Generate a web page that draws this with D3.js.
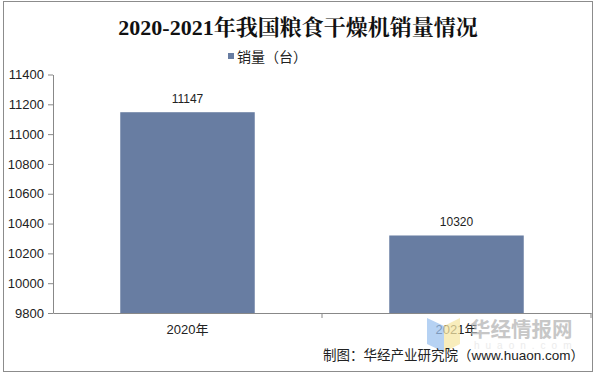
<!DOCTYPE html>
<html><head><meta charset="utf-8">
<script src="https://cdn.jsdelivr.net/npm/d3@7/dist/d3.min.js"></script>
<style>body{margin:0;background:#fff;}svg{display:block;}</style>
</head><body>
<script>
const categories = ["2020年", "2021年"];
const values = [11147, 10320];
const yTicks = [9800, 10000, 10200, 10400, 10600, 10800, 11000, 11200, 11400];
const title = "2020-2021年我国粮食干燥机销量情况";
const legendLabel = "销量（台）";
const source = "制图：华经产业研究院（www.huaon.com）";

const W = 596, H = 376;
const svg = d3.select("body").append("svg").attr("width", W).attr("height", H);
svg.append("rect").attr("x", 3.5).attr("y", 1.5).attr("width", 589).attr("height", 370)
  .attr("fill", "#fff").attr("stroke", "#8c8c8c").attr("stroke-width", 1);

const m = {l: 53, r: 591, t: 74.5, b: 313};
const x = d3.scaleBand().domain(categories).range([m.l, m.r]).paddingInner(0.5).paddingOuter(0.25);
const y = d3.scaleLinear().domain([9800, 11400]).range([m.b, m.t]);
const xb = d3.scaleBand().domain(categories).range([m.l, m.r]);

const font = "'Liberation Sans', Arial, 'Noto Sans CJK SC', sans-serif";

// title
svg.append("text").attr("x", 298).attr("y", 35).attr("text-anchor", "middle")
  .attr("font-family", "'Liberation Serif', 'Noto Serif CJK SC', 'Noto Sans CJK SC', serif")
  .attr("font-weight", "bold").attr("font-size", 22).attr("fill", "#111").text(title);

// legend
svg.append("rect").attr("x", 228).attr("y", 53).attr("width", 6).attr("height", 6).attr("fill", "#687da2");
svg.append("text").attr("x", 237).attr("y", 61.5).attr("font-family", font).attr("font-size", 14)
  .attr("fill", "#222").text(legendLabel);

// bars
svg.selectAll(".bar").data(values).enter().append("rect")
  .attr("x", (d, i) => x(categories[i])).attr("width", x.bandwidth())
  .attr("y", d => y(d)).attr("height", d => y(9800) - y(d)).attr("fill", "#687da2");

svg.selectAll(".lbl").data(values).enter().append("text")
  .attr("x", (d, i) => x(categories[i]) + x.bandwidth() / 2).attr("y", d => y(d) - 9)
  .attr("text-anchor", "middle").attr("font-family", font).attr("font-size", 12).attr("fill", "#222")
  .text(d => d);

// y axis
const ya = svg.append("g").attr("transform", `translate(${m.l},0)`)
  .call(d3.axisLeft(y).tickValues(yTicks).tickSize(5).tickSizeOuter(0).tickFormat(d3.format("d")));
ya.select(".domain").attr("stroke", "#888");
ya.selectAll(".tick line").attr("stroke", "#888");
ya.selectAll(".tick text").attr("font-family", font).attr("font-size", 13).attr("fill", "#222").attr("x", -9);

// x axis
const xa = svg.append("g").attr("transform", `translate(0,${m.b})`)
  .call(d3.axisBottom(xb).tickSize(0).tickSizeOuter(0));
xa.select(".domain").attr("stroke", "#888");
xa.selectAll(".tick text").attr("font-family", font).attr("font-size", 13).attr("fill", "#222").attr("dy", 0).attr("y", 21);
const bounds = categories.map(c => xb(c) + xb.bandwidth());
xa.selectAll(".sep").data(bounds).enter().append("line")
  .attr("x1", d => d).attr("x2", d => d).attr("y1", 0).attr("y2", 5).attr("stroke", "#888");

// watermark
const wm = svg.append("g").attr("opacity", 0.75);
wm.append("path").attr("d", "M427,318 L444,326 L444,352 L427,344 Z").attr("fill", "#9ec3f0");
wm.append("path").attr("d", "M444,326 L460,318 L460,344 L444,352 Z").attr("fill", "#f6e7a6");
wm.append("text").attr("x", 470).attr("y", 337).attr("font-family", "'Noto Sans CJK SC', sans-serif")
  .attr("font-weight", "bold").attr("font-size", 20.5).attr("fill", "#b5b5b5").text("华经情报网");
wm.append("text").attr("x", 474).attr("y", 349).attr("font-family", font)
  .attr("font-size", 10).attr("letter-spacing", 6).attr("fill", "#e6e6e6").text("huaon.com");

// source
svg.append("text").attr("x", 584).attr("y", 360).attr("text-anchor", "end").attr("font-family", font)
  .attr("font-size", 13.5).attr("fill", "#222").text(source);
</script>
</body></html>
